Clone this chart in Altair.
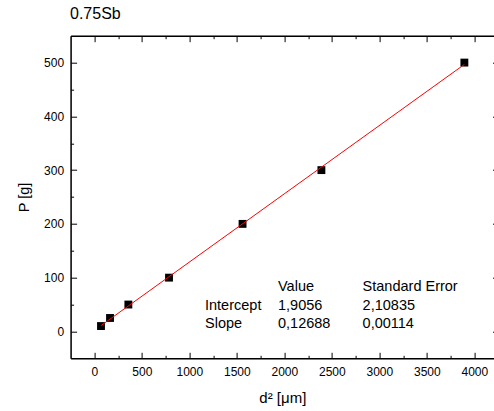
import altair as alt
import pandas as pd

# ---- data ----
d2_um2 = [70, 165, 358, 786, 1560, 2390, 3895]
p_g = [10, 25, 50, 100, 200, 300, 500]

x_major = [0, 500, 1000, 1500, 2000, 2500, 3000, 3500, 4000]
x_minor = [250, 750, 1250, 1750, 2250, 2750, 3250, 3750]
y_major = [0, 100, 200, 300, 400, 500]
y_minor = [50, 150, 250, 350, 450]

fit_header = ["", "Value", "Standard Error"]
fit_names = ["Intercept", "Slope"]
fit_values = ["1,9056", "0,12688"]
fit_errors = ["2,10835", "0,00114"]

chart_title = "0.75Sb"
x_title = "d² [μm]"
y_title = "P [g]"

# ---- layout ----
PAD_L, PAD_T = 70.6, 35.7
W, H = 494 - PAD_L, 322.6
X_DOM = [-250, -250 + W / 0.095]
Y_DOM = [-50, 550]
FONT = "Liberation Sans"
INK = "#000000"

df = pd.DataFrame({"x": d2_um2, "y": p_g})
base = alt.Chart(df)

xs = alt.Scale(domain=X_DOM, nice=False, zero=False)
ys = alt.Scale(domain=Y_DOM, nice=False, zero=False)


def tick_axis(orient, values, size, offset, domain=False):
    return alt.Axis(orient=orient, values=values, tickSize=size, offset=offset,
                    labels=False, domain=domain, domainColor=INK, domainWidth=1.5,
                    tickColor=INK, tickWidth=1, grid=False, title=None)


label_x = alt.Axis(orient="bottom", values=x_major, format="d", ticks=False, tickSize=0,
                   labelPadding=8, labelFontSize=12, labelColor=INK, labelFont=FONT,
                   domain=True, domainColor=INK, domainWidth=1.5, grid=False,
                   title=x_title, titleFontSize=15, titleFontWeight="normal",
                   titleFont=FONT, titleColor=INK, titlePadding=13)
label_y = alt.Axis(orient="left", values=y_major, format="d", ticks=False, tickSize=0,
                   labelPadding=7, labelFontSize=12, labelColor=INK, labelFont=FONT,
                   domain=True, domainColor=INK, domainWidth=1.5, grid=False,
                   title=y_title, titleFontSize=14.5, titleFontWeight="normal",
                   titleFont=FONT, titleColor=INK, titlePadding=12)

points = base.mark_square(size=62, color=INK, opacity=1).encode(
    x=alt.X("x:Q", scale=xs, axis=label_x),
    y=alt.Y("y:Q", scale=ys, axis=label_y),
)

fit = base.transform_regression("x", "y").mark_line(color="#ff0000", strokeWidth=1).encode(
    x=alt.X("x:Q", scale=xs, axis=tick_axis("top", x_major, 6, -H)),
    y=alt.Y("y:Q", scale=ys, axis=tick_axis("right", y_major, 6, -W)),
)

dummy1 = base.mark_point(opacity=0).encode(
    x=alt.X("x:Q", scale=xs, axis=tick_axis("top", x_minor, 3, -H)),
    y=alt.Y("y:Q", scale=ys, axis=tick_axis("right", y_minor, 3, -W)),
)
dummy2 = base.mark_point(opacity=0).encode(
    x=alt.X("x:Q", scale=xs, axis=tick_axis("bottom", x_major, 6, -H, domain=True)),
    y=alt.Y("y:Q", scale=ys, axis=tick_axis("left", y_major, 6, -(W + 4.5))),
)
dummy3 = base.mark_point(opacity=0).encode(
    x=alt.X("x:Q", scale=xs, axis=tick_axis("bottom", x_minor, 3, -H)),
    y=alt.Y("y:Q", scale=ys, axis=tick_axis("left", y_minor, 3, -(W + 4.5))),
)

# text table (positions are layout, relative to plot origin)
col_x = [134.4, 207.4, 292.0]
row_y = [255.3, 274.3, 292.6]
rows = [fit_header] + [[n, v, e] for n, v, e in zip(fit_names, fit_values, fit_errors)]
texts = []
for r, row in enumerate(rows):
    for c, t in enumerate(row):
        if not t:
            continue
        texts.append(
            alt.Chart(pd.DataFrame({"t": [t]})).mark_text(
                align="left", baseline="alphabetic", fontSize=14.5, font=FONT, color=INK
            ).encode(text="t:N", x=alt.value(col_x[c]), y=alt.value(row_y[r]))
        )

title = alt.Chart(pd.DataFrame({"t": [chart_title]})).mark_text(
    align="left", baseline="alphabetic", fontSize=16, font=FONT, color=INK
).encode(text="t:N", x=alt.value(-0.6), y=alt.value(-16.7))

chart = alt.layer(points, fit, dummy1, dummy2, dummy3, *texts, title).resolve_axis(
    x="independent", y="independent"
).properties(
    width=W, height=H, autosize="none",
    padding={"left": PAD_L, "top": PAD_T, "right": 0, "bottom": 411 - PAD_T - H},
).configure_view(strokeWidth=0).configure(background="white")

chart.save("out.html", embed_options={"renderer": "svg", "actions": False})
